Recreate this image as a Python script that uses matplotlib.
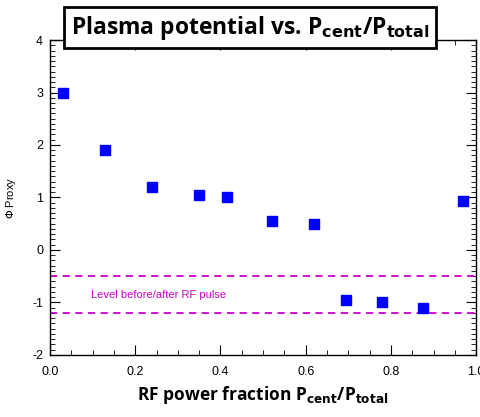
import numpy as np
import matplotlib
matplotlib.use('Agg')
import matplotlib.pyplot as plt
from matplotlib.ticker import MultipleLocator

plt.rcParams['axes.unicode_minus'] = False
plt.rcParams['font.family'] = ['Liberation Sans', 'DejaVu Sans']

# data
power_frac = [0.03, 0.13, 0.24, 0.35, 0.415, 0.52, 0.62, 0.695, 0.78, 0.875, 0.97]
phi_proxy = [3.0, 1.9, 1.2, 1.05, 1.0, 0.55, 0.5, -0.95, -1.0, -1.1, 0.93]
level_lines = [-0.5, -1.2]
level_text = 'Level before/after RF pulse'

fig = plt.figure(figsize=(4.81, 4.17), dpi=100)
ax = fig.add_axes([0.104, 0.149, 0.886, 0.755])

ax.scatter(power_frac, phi_proxy, marker='s', s=42, color='#0000ff', zorder=3)
for lv in level_lines:
    ax.axhline(lv, color='#cc00cc', linestyle=(0, (4, 3)), linewidth=1.3)
ax.text(0.095, -0.85, level_text, color='#cc00cc', fontsize=8, va='center')

ax.set_xlim(0, 1.0)
ax.set_ylim(-2, 4)
ax.xaxis.set_major_locator(MultipleLocator(0.2))
ax.xaxis.set_minor_locator(MultipleLocator(0.05))
ax.yaxis.set_major_locator(MultipleLocator(1))
ax.yaxis.set_minor_locator(MultipleLocator(0.1))
ax.set_xticks([0.0, 0.2, 0.4, 0.6, 0.8, 1.0])
ax.set_xticklabels(['0.0', '0.2', '0.4', '0.6', '0.8', '1.0'])
ax.tick_params(which='both', direction='in', top=True, right=True, labelsize=9, pad=5)
ax.tick_params(which='major', length=7)
ax.tick_params(which='minor', length=3.5)
ax.tick_params(axis='x', pad=8)
for sp in ax.spines.values():
    sp.set_linewidth(1.0)

ax.set_ylabel(r'$\Phi$ Proxy', fontsize=8, labelpad=10)
ax.set_xlabel(r'RF power fraction P$_{\mathbf{cent}}$/P$_{\mathbf{total}}$',
              fontsize=12.5, fontweight='bold', family='Open Sans', labelpad=4)

fig.text(0.52, 0.934, r'Plasma potential vs. P$_{\mathbf{cent}}$/P$_{\mathbf{total}}$',
         ha='center', va='center', fontsize=16.5, fontweight='bold', family='Open Sans',
         bbox=dict(boxstyle='square,pad=0.3', facecolor='white', edgecolor='black', linewidth=2),
         zorder=10)

fig.savefig('out.png', dpi=100)
